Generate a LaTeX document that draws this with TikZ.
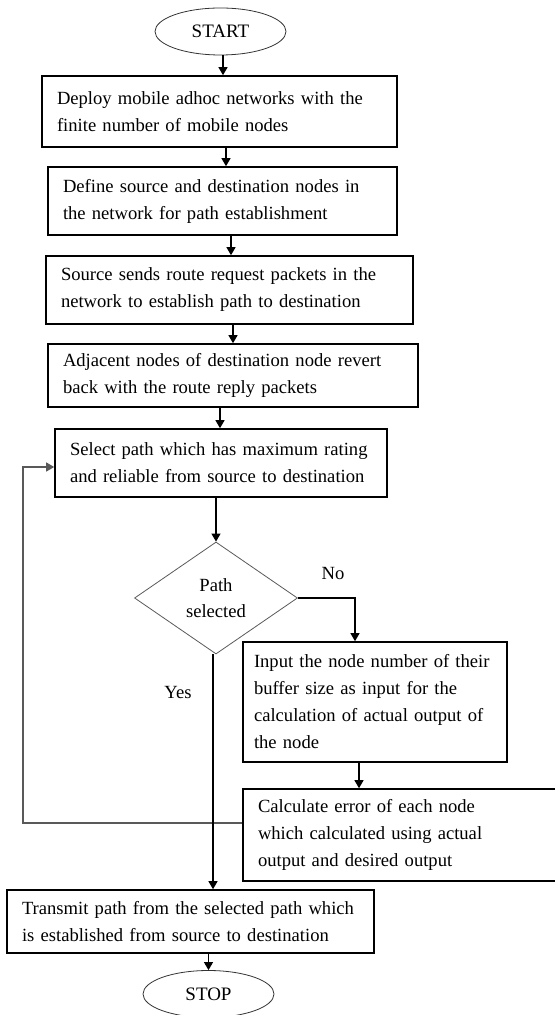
\documentclass[tikz,border=0pt]{standalone}
\usepackage{fontspec}
\setmainfont{Liberation Serif}
\usetikzlibrary{arrows.meta,shapes.geometric}
\tikzset{
  term/.style={
    draw=black!80,
    ellipse,
    minimum width=65.5pt,
    minimum height=23.5pt,
    inner sep=0pt,
    font=\fontsize{9.5}{13}\selectfont
  },
  stage/.style={
    draw,
    line width=0.8pt,
    align=left,
    inner xsep=7.5pt,
    inner ysep=0pt,
    font=\fontsize{9.3}{13.5}\selectfont
  },
  decide/.style={
    draw=black!65,
    diamond,
    aspect=1.45,
    minimum width=81.5pt,
    minimum height=56pt,
    inner sep=0pt,
    align=center,
    font=\fontsize{9.3}{13}\selectfont
  },
  lbl/.style={font=\fontsize{9.3}{13}\selectfont},
  flow/.style={-{Triangle[length=4pt,width=4.5pt]}, line width=0.6pt},
  back/.style={-{Triangle[length=4pt,width=4.5pt]}, line width=0.6pt, draw=black!65}
}
\begin{document}
\begin{tikzpicture}[x=0.5pt,y=-0.5pt]
  \useasboundingbox (0,0) rectangle (554,1015);

  \node[term] (start) at (220.5,31.5) {START};

  \node[stage, text width=162.5pt, minimum height=35.5pt] (b1) at (219.5,111.5)
    {Deploy mobile adhoc networks with the\\finite number of mobile nodes};
  \node[stage, text width=159.5pt, minimum height=34pt] (b2) at (222.5,201)
    {Define source and destination nodes in\\the network for path establishment};
  \node[stage, text width=168.5pt, minimum height=34pt] (b3) at (229.5,290)
    {Source sends route request packets in the\\network to establish path to destination};
  \node[stage, text width=170pt, minimum height=31.5pt] (b4) at (233,375.5)
    {Adjacent nodes of destination node revert\\back with the route reply packets};
  \node[stage, text width=151pt, minimum height=34pt] (b5) at (221,463)
    {Select path which has maximum rating\\and reliable from source to destination};

  \node[decide] (dia) at (216,598) {Path\\selected};
  \node[lbl] (no) at (333,573) {No};
  \node[lbl] (yes) at (178,692) {Yes};

  \node[stage, text width=121pt, inner xsep=5.5pt, minimum height=60pt] (b6) at (375,702)
    {Input the node number of their\\buffer size as input for the\\calculation of actual output of\\the node};
  \node[stage, text width=143.5pt, minimum height=46pt] (b7) at (401.5,835)
    {Calculate error of each node\\which calculated using actual\\output and desired output};
  \node[stage, text width=168.5pt, minimum height=31.5pt] (b8) at (190.5,921.5)
    {Transmit path from the selected path which\\is established from source to destination};

  \node[term] (stop) at (208.5,994) {STOP};

  \coordinate (turn) at (23,823);

  \draw[flow] ([xshift=1.25pt]start.south) -- ([xshift=1.25pt]start.south |- b1.north);
  \draw[flow] ([xshift=3.25pt]b1.south) -- ([xshift=3.25pt]b1.south |- b2.north);
  \draw[flow] ([xshift=4.25pt]b2.south) -- ([xshift=4.25pt]b2.south |- b3.north);
  \draw[flow] ([xshift=1.75pt]b3.south) -- ([xshift=1.75pt]b3.south |- b4.north);
  \draw[flow] ([xshift=-6.5pt]b4.south) -- ([xshift=-6.5pt]b4.south |- b5.north);
  \draw[flow] (b5.south -| dia.north) -- (dia.north);

  \draw[flow] (dia.east) -| ([xshift=-10pt]b6.north);
  \draw[flow] ([xshift=-8pt]b6.south) -- ([xshift=-8pt]b6.south |- b7.north);
  \draw[back] (b7.west |- turn) -- (turn) |- ([yshift=-2pt]b5.west);

  \draw[flow] ([xshift=-1.5pt]dia.south) -- ([xshift=-1.5pt]dia.south |- b8.north);
  \draw[flow] (b8.south -| stop.north) -- (stop.north);
\end{tikzpicture}
\end{document}
